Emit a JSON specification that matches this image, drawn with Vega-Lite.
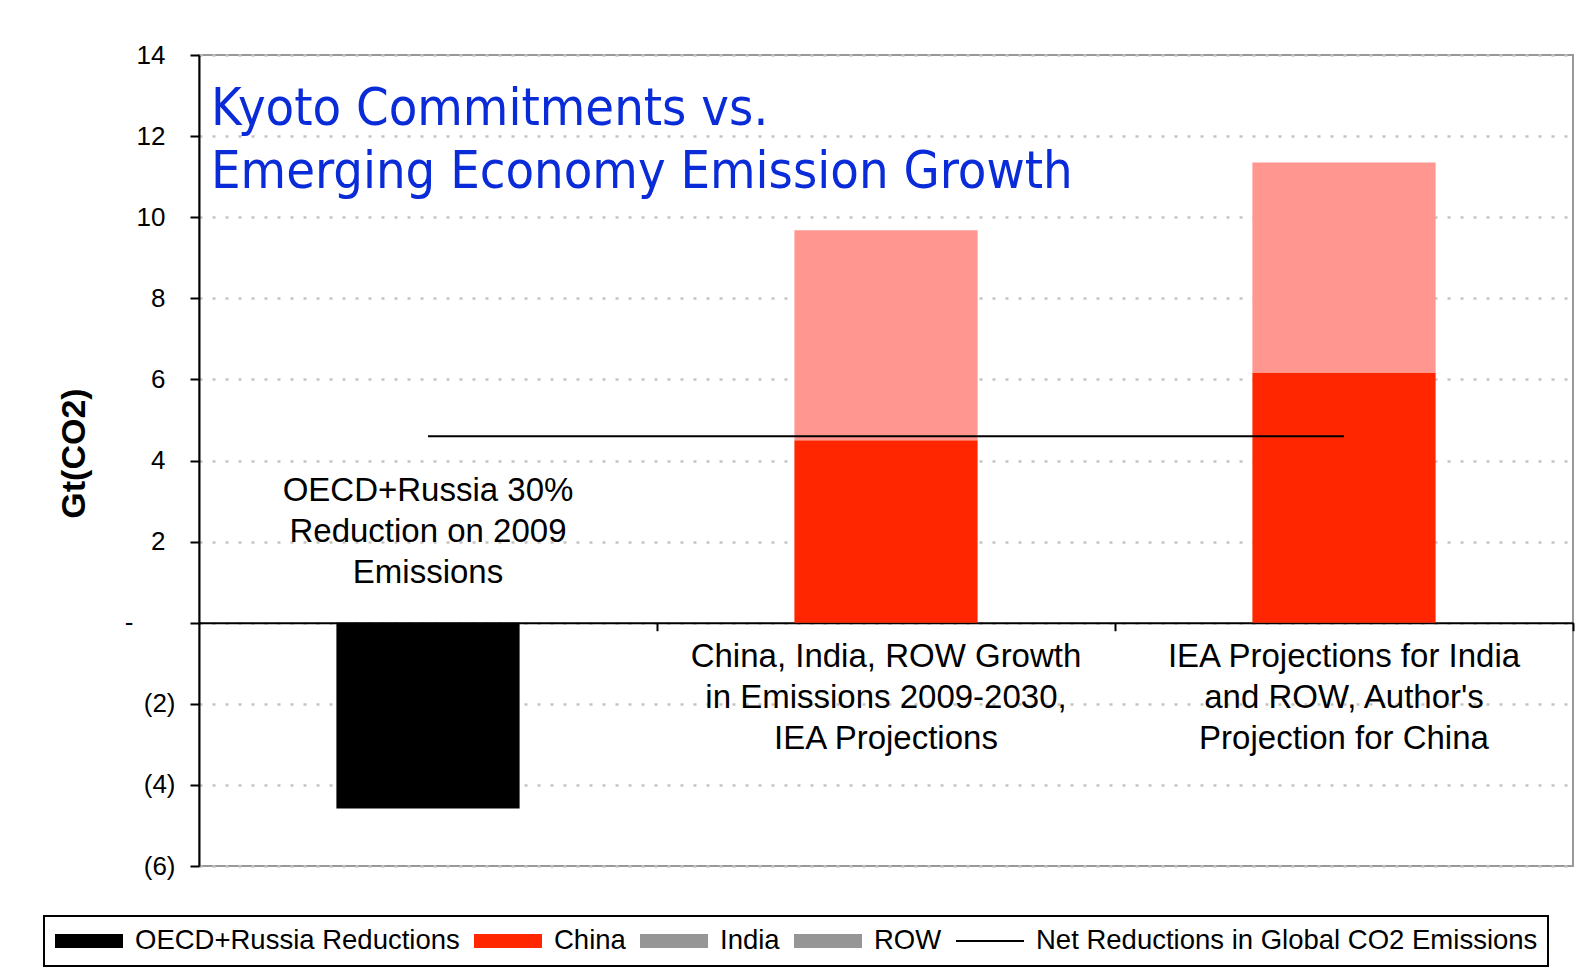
{
  "$schema": "https://vega.github.io/schema/vega-lite/v6.json",
  "width": 1374,
  "height": 811,
  "autosize": {"type": "none"},
  "padding": {"left": 199, "top": 55, "right": 8, "bottom": 106},
  "background": "white",
  "title": {
    "text": ["Kyoto Commitments vs.", "Emerging Economy Emission Growth"],
    "anchor": "start",
    "frame": "group",
    "orient": "top",
    "font": "DejaVu Sans Condensed",
    "fontSize": 52,
    "fontWeight": "normal",
    "color": "#0A2BD8",
    "lineHeight": 63.5,
    "baseline": "top",
    "offset": 0,
    "dx": 12,
    "dy": 157
  },
  "config": {
    "view": {"stroke": "#999999", "strokeWidth": 2},
    "axis": {"labelFont": "Liberation Sans", "titleFont": "Liberation Sans"}
  },
  "datasets": {
    "bars": [
      {"category": "OECD+Russia 30%\nReduction on 2009\nEmissions", "series": "OECD+Russia Reductions", "value": -4.58},
      {"category": "China, India, ROW Growth\nin Emissions 2009-2030,\nIEA Projections", "series": "China", "value": 4.5},
      {"category": "China, India, ROW Growth\nin Emissions 2009-2030,\nIEA Projections", "series": "India + ROW", "value": 5.18},
      {"category": "IEA Projections for India\nand ROW, Author's\nProjection for China", "series": "China", "value": 6.17},
      {"category": "IEA Projections for India\nand ROW, Author's\nProjection for China", "series": "India + ROW", "value": 5.18}
    ],
    "net": [
      {"category": "OECD+Russia 30%\nReduction on 2009\nEmissions", "value": 4.6},
      {"category": "China, India, ROW Growth\nin Emissions 2009-2030,\nIEA Projections", "value": 4.6},
      {"category": "IEA Projections for India\nand ROW, Author's\nProjection for China", "value": 4.6}
    ]
  },
  "layer": [
    {
      "data": {"name": "bars"},
      "mark": {"type": "bar"},
      "encoding": {
        "x": {
          "field": "category",
          "type": "nominal",
          "sort": null,
          "scale": {"paddingInner": 0.6, "paddingOuter": 0.3},
          "axis": {
            "title": null,
            "labels": false,
            "grid": false,
            "offset": -243.3,
            "ticks": true,
            "tickOffset": 229,
            "tickSize": 8,
            "tickWidth": 2,
            "tickColor": "black",
            "domainColor": "black",
            "domainWidth": 2
          }
        },
        "y": {
          "field": "value",
          "type": "quantitative",
          "stack": "zero",
          "scale": {"domain": [-6, 14], "nice": false, "zero": false},
          "axis": {
            "title": "Gt(CO2)",
            "titleFontSize": 34,
            "titleFontWeight": "bold",
            "titleColor": "black",
            "titleAngle": -90,
            "titleX": -125,
            "titleY": 398,
            "titleAlign": "center",
            "titleBaseline": "middle",
            "values": [-6, -4, -2, 0, 2, 4, 6, 8, 10, 12, 14],
            "labelExpr": "datum.value == 0 ? '-' : (datum.value < 0 ? '(' + abs(datum.value) + ')' : '' + datum.value)",
            "labelFontSize": 26,
            "labelColor": "black",
            "labelPadding": {
              "condition": [
                {"test": "datum.value == 0", "value": 57},
                {"test": "datum.value > 0", "value": 25}
              ],
              "value": 15
            },
            "tickSize": 9,
            "tickWidth": 2,
            "tickColor": "black",
            "domainColor": "black",
            "domainWidth": 2,
            "grid": true,
            "gridColor": "#C4C4C4",
            "gridDash": [3, 10],
            "gridWidth": 2.5
          }
        },
        "color": {
          "field": "series",
          "type": "nominal",
          "scale": {
            "domain": ["OECD+Russia Reductions", "China", "India", "ROW", "India + ROW", "Net Reductions in Global CO2 Emissions"],
            "range": ["#000000", "#FF2600", "#969696", "#969696", "#FF9690", "#000000"]
          },
          "legend": {
            "values": ["OECD+Russia Reductions", "China", "India", "ROW", "Net Reductions in Global CO2 Emissions"],
            "title": null,
            "orient": "none",
            "legendX": -155,
            "legendY": 861,
            "direction": "horizontal",
            "columns": 5,
            "clipHeight": 30,
            "symbolType": "M-1,-0.206H1V0.206H-1Z",
            "symbolSize": 4624,
            "symbolStrokeWidth": 2,
            "labelFont": "Liberation Sans",
            "labelFontSize": 27.5,
            "labelColor": "black",
            "labelOffset": 11,
            "labelLimit": 800,
            "columnPadding": 13,
            "padding": 10,
            "strokeColor": "black",
            "fillColor": "white",
            "encode": {
              "legend": {"update": {"strokeWidth": {"value": 2}}},
              "symbols": {
                "update": {
                  "shape": {"signal": "datum.value === 'Net Reductions in Global CO2 Emissions' ? 'M-1,0H1' : 'M-1,-0.206H1V0.206H-1Z'"},
                  "stroke": {"signal": "datum.value === 'Net Reductions in Global CO2 Emissions' ? 'black' : 'transparent'"}
                }
              }
            }
          }
        },
        "order": {"field": "series", "sort": "ascending"}
      }
    },
    {
      "data": {"name": "net"},
      "mark": {"type": "line", "color": "black", "strokeWidth": 2},
      "encoding": {
        "x": {"field": "category", "type": "nominal", "sort": null},
        "y": {"field": "value", "type": "quantitative"}
      }
    },
    {
      "data": {"name": "net"},
      "transform": [{"filter": {"field": "category", "equal": "OECD+Russia 30%\nReduction on 2009\nEmissions"}}],
      "mark": {"type": "text", "baseline": "bottom", "dy": -115, "lineBreak": "\n", "lineHeight": 41, "font": "Liberation Sans", "fontSize": 33, "color": "black"},
      "encoding": {
        "x": {"field": "category", "type": "nominal", "sort": null},
        "y": {"datum": 0, "type": "quantitative"},
        "text": {"field": "category"}
      }
    },
    {
      "data": {"name": "net"},
      "transform": [{"filter": {"not": {"field": "category", "equal": "OECD+Russia 30%\nReduction on 2009\nEmissions"}}}],
      "mark": {"type": "text", "baseline": "top", "dy": 18, "lineBreak": "\n", "lineHeight": 41, "font": "Liberation Sans", "fontSize": 33, "color": "black"},
      "encoding": {
        "x": {"field": "category", "type": "nominal", "sort": null},
        "y": {"datum": 0, "type": "quantitative"},
        "text": {"field": "category"}
      }
    }
  ]
}
